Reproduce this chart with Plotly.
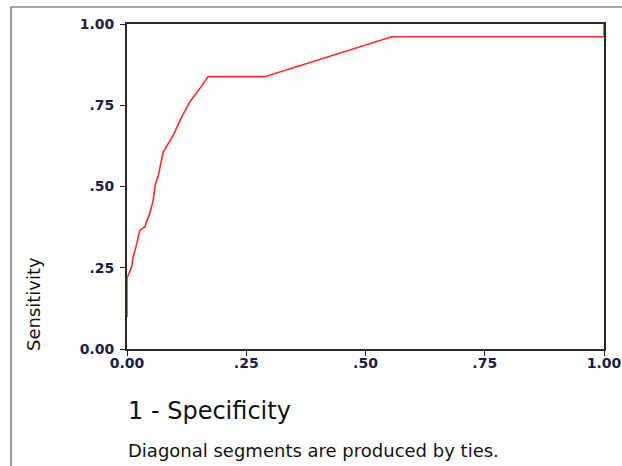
import plotly.graph_objects as go

# ROC curve points (1 - specificity, sensitivity)
fpr = [0.0, 0.0, 0.010, 0.013, 0.019, 0.024, 0.027, 0.038, 0.041, 0.048, 0.052, 0.055,
       0.059, 0.066, 0.073, 0.076, 0.087, 0.097, 0.115, 0.132, 0.153, 0.170, 0.289,
       0.555, 1.0, 1.0]
tpr = [0.098, 0.218, 0.253, 0.284, 0.315, 0.345, 0.366, 0.376, 0.392, 0.418, 0.438, 0.458,
       0.505, 0.535, 0.587, 0.607, 0.633, 0.658, 0.715, 0.761, 0.802, 0.838, 0.838,
       0.961, 0.961, 1.0]

tick_vals = [0, 0.25, 0.5, 0.75, 1.0]
tick_text = ["0.00", ".25", ".50", ".75", "1.00"]

W, H = 622, 466
L, R, T, B = 127, 18, 24, 117
pw, ph = W - L - R, H - T - B

def px(x):
    return (x - L) / pw

def py(y):
    return (H - B - y) / ph

fig = go.Figure()
fig.add_trace(go.Scatter(x=fpr, y=tpr, mode="lines",
                         line=dict(color="#ff2a2a", width=1.6), showlegend=False,
                         hoverinfo="skip", cliponaxis=False))

tickfont = dict(family="DejaVu Sans", size=14, color="#1c1c44", weight="bold")
axis_common = dict(range=[0, 1], tickvals=tick_vals, ticktext=tick_text,
                   showgrid=False, zeroline=False, showline=True, mirror=True,
                   linecolor="#2a2a2a", linewidth=1.8, ticks="outside", ticklen=5,
                   tickwidth=1.4, tickcolor="#222222", tickfont=tickfont, fixedrange=True,
                   automargin=False)

fig.update_layout(
    width=W, height=H, autosize=False,
    margin=dict(l=L, r=R, t=T, b=B, autoexpand=False),
    paper_bgcolor="white", plot_bgcolor="white",
    xaxis=dict(**axis_common, ticklabelstandoff=-5),
    yaxis=dict(**axis_common, ticklabelstandoff=3),
    shapes=[dict(type="rect", xref="paper", yref="paper",
                 x0=px(11), x1=px(660), y0=py(500), y1=py(7),
                 line=dict(color="#555555", width=1.2), fillcolor="rgba(0,0,0,0)",
                 layer="below")],
    annotations=[
        dict(text="Sensitivity", xref="paper", yref="paper", x=px(33), y=py(304),
             textangle=-90, showarrow=False, xanchor="center", yanchor="middle",
             font=dict(family="DejaVu Sans", size=18, color="#111111")),
        dict(text="1 - Specificity", xref="paper", yref="paper", x=px(126), y=py(411),
             showarrow=False, xanchor="left", yanchor="middle",
             font=dict(family="DejaVu Sans", size=24, color="#111111")),
        dict(text="Diagonal segments are produced by ties.", xref="paper", yref="paper",
             x=px(126), y=py(450), showarrow=False, xanchor="left", yanchor="middle",
             font=dict(family="DejaVu Sans", size=18, color="#111111")),
    ],
)

fig.write_html("out.html", config={"responsive": False, "displayModeBar": False},
               post_script="document.body.style.margin='0px';document.body.style.overflow='hidden';")
